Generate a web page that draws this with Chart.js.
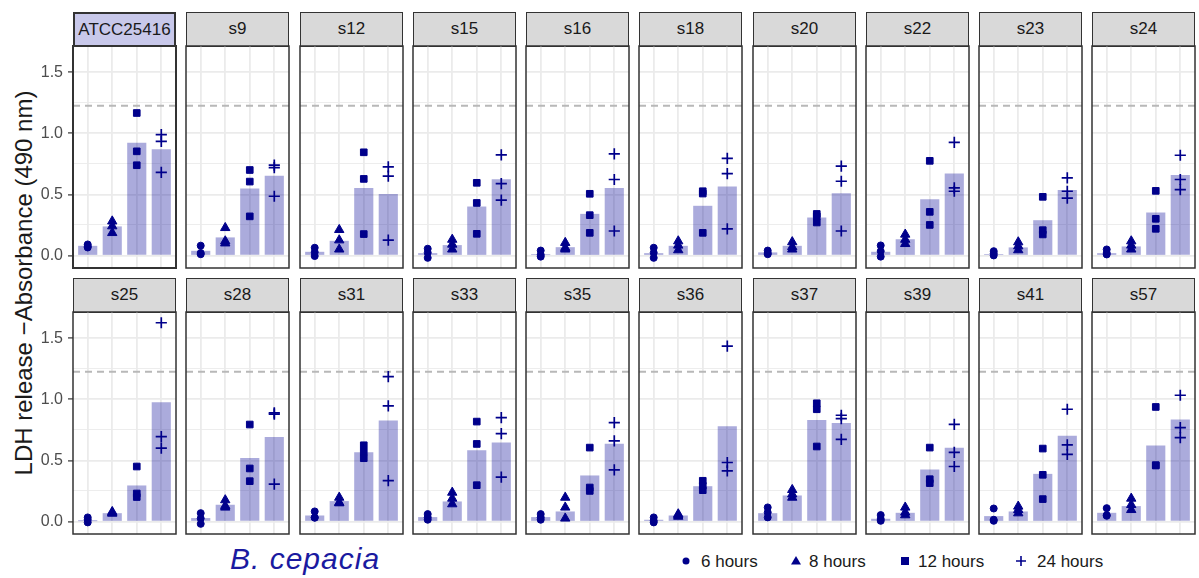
<!DOCTYPE html>
<html>
<head>
<meta charset="utf-8">
<script src="https://cdn.jsdelivr.net/npm/chart.js@4.4.1/dist/chart.umd.min.js"></script>
<style>
  body { margin: 0; background: #fff; width: 1199px; height: 578px; overflow: hidden; position: relative;
         font-family: "Liberation Sans", Arial, Helvetica, sans-serif; }
  .strip { position: absolute; box-sizing: border-box; border: 1.6px solid #333; background: #D9D9D9;
           color: #1A1A1A; font-size: 17px; text-align: center; line-height: 31px; }
  .strip.ref { background: #C8C8EA; border-width: 2px; }
  canvas { position: absolute; }
  #ytitle { position: absolute; width: 420px; height: 30px; line-height: 30px; left: -186px; top: 268px;
            text-align: center; font-size: 24px; color: #1A1A1A; transform: rotate(-90deg); white-space: nowrap; }
  #species { position: absolute; left: 230px; top: 541px; font-size: 30px; font-style: italic;
             letter-spacing: 1px; color: #1A1AA0; line-height: 36px; }
  #legend { position: absolute; left: 0; top: 540px; }
</style>
</head>
<body>
<div id="ytitle">LDH release −Absorbance (490 nm)</div>
<div id="species">B. cepacia</div>
<svg id="legend" width="1199" height="38" xmlns="http://www.w3.org/2000/svg"></svg>
<script>
const strains = ['ATCC25416', 's9', 's12', 's15', 's16', 's18', 's20', 's22', 's23', 's24',
                 's25', 's28', 's31', 's33', 's35', 's36', 's37', 's39', 's41', 's57'];
const timeLabels = ['6 hours', '8 hours', '12 hours', '24 hours'];

// bar heights (mean of replicates), one value per strain
const mean6h  = [0.076, 0.035, 0.027, 0.016, 0.008, 0.016, 0.022, 0.027, 0.008, 0.016,
                 0.005, 0.025, 0.046, 0.033, 0.033, 0.011, 0.065, 0.019, 0.041, 0.068];
const mean8h  = [0.235, 0.145, 0.117, 0.082, 0.065, 0.076, 0.076, 0.130, 0.063, 0.071,
                 0.065, 0.134, 0.164, 0.161, 0.079, 0.046, 0.210, 0.068, 0.079, 0.123];
const mean12h = [0.920, 0.545, 0.550, 0.398, 0.338, 0.404, 0.308, 0.458, 0.286, 0.349,
                 0.292, 0.518, 0.565, 0.581, 0.374, 0.286, 0.829, 0.423, 0.387, 0.619];
const mean24h = [0.867, 0.650, 0.500, 0.622, 0.550, 0.562, 0.507, 0.668, 0.534, 0.657,
                 0.974, 0.690, 0.824, 0.644, 0.633, 0.777, 0.804, 0.600, 0.700, 0.832];

// replicate measurements, three per strain
const reps6h = [[0.09, 0.075, 0.065], [0.08, 0.01, 0.02], [0.063, 0.027, -0.005], [0.055, 0.022, -0.02],
                [0.04, 0.005, -0.01], [0.063, 0.022, -0.02], [0.04, 0.02, 0.01], [0.082, 0.035, -0.01],
                [0.035, 0.016, 0.0], [0.049, 0.008, 0.02], [0.033, 0.014, -0.008], [0.068, 0.025, -0.02],
                [0.082, 0.033, 0.03], [0.06, 0.033, 0.014], [0.06, 0.033, 0.014], [0.033, 0.005, -0.008],
                [0.115, 0.074, 0.033], [0.052, 0.005, 0.02], [0.106, 0.014, 0.005], [0.109, 0.052, 0.046]];
const reps8h = [[0.28, 0.24, 0.185], [0.226, 0.117, 0.1], [0.21, 0.125, 0.05], [0.13, 0.09, 0.05],
                [0.104, 0.063, 0.05], [0.117, 0.082, 0.044], [0.11, 0.07, 0.05], [0.172, 0.13, 0.095],
                [0.109, 0.076, 0.044], [0.117, 0.082, 0.05], [0.079, 0.07, 0.065], [0.175, 0.128, 0.115],
                [0.196, 0.155, 0.15], [0.237, 0.188, 0.142], [0.196, 0.115, 0.025], [0.06, 0.05, 0.04],
                [0.259, 0.223, 0.196], [0.115, 0.074, 0.052], [0.123, 0.095, 0.068], [0.188, 0.136, 0.095]];
const reps12h = [[1.167, 0.853, 0.739], [0.70, 0.605, 0.32], [0.845, 0.627, 0.175], [0.595, 0.43, 0.177],
                 [0.505, 0.33, 0.185], [0.526, 0.507, 0.185], [0.34, 0.32, 0.27], [0.775, 0.357, 0.25],
                 [0.48, 0.207, 0.172], [0.529, 0.30, 0.218], [0.45, 0.229, 0.20], [0.794, 0.434, 0.33],
                 [0.624, 0.57, 0.518], [0.818, 0.635, 0.297], [0.605, 0.278, 0.25], [0.333, 0.292, 0.256],
                 [0.968, 0.919, 0.614], [0.605, 0.346, 0.314], [0.597, 0.382, 0.183], [0.938, 0.461, 0.458]];
const reps24h = [[0.99, 0.935, 0.68], [0.74, 0.72, 0.485], [0.725, 0.65, 0.125], [0.824, 0.589, 0.453],
                 [0.832, 0.622, 0.20], [0.796, 0.67, 0.218], [0.731, 0.608, 0.20], [0.927, 0.554, 0.526],
                 [0.635, 0.526, 0.469], [0.821, 0.622, 0.54], [1.628, 0.695, 0.60], [0.89, 0.88, 0.305],
                 [1.186, 0.946, 0.335], [0.851, 0.72, 0.363], [0.81, 0.66, 0.423], [1.437, 0.483, 0.415],
                 [0.87, 0.843, 0.673], [0.796, 0.565, 0.45], [0.919, 0.627, 0.55], [1.034, 0.769, 0.687]];

const threshold = 1.227;
const yTickLabels = [0, 0.5, 1, 1.5];
const yMinorGrid = [0.25, 0.75, 1.25];

const means = [mean6h, mean8h, mean12h, mean24h];
const reps = [reps6h, reps8h, reps12h, reps24h];
const shapes = ['circle', 'triangle', 'rect', 'cross'];
const sizes = [3.5, 5.4, 4.7, 5.6];
const ptColor = '#00008B';

const panelW = 103;
const plotTop = [46, 312];
const plotH = 222;
const stripH = 34;
const pad = 2;
const colLeft = i => Math.round(73 + 113.25 * i);

const panelBorder = {
  id: 'panelBorder',
  afterDraw(chart, args, opts) {
    const a = chart.chartArea, g = chart.ctx;
    g.save();
    g.strokeStyle = '#333';
    g.lineWidth = opts.width || 1.5;
    g.strokeRect(a.left, a.top, a.right - a.left, a.bottom - a.top);
    g.restore();
  }
};

function noMargins(s) {
  s.paddingLeft = 0; s.paddingRight = 0; s.paddingTop = 0; s.paddingBottom = 0;
}

strains.forEach((name, k) => {
  const row = Math.floor(k / 10), col = k % 10;
  const left = colLeft(col), top = plotTop[row];

  const strip = document.createElement('div');
  strip.className = k === 0 ? 'strip ref' : 'strip';
  strip.textContent = name;
  strip.style.left = left + 'px';
  strip.style.top = (top - stripH) + 'px';
  strip.style.width = panelW + 'px';
  strip.style.height = (stripH + 1) + 'px';
  document.body.appendChild(strip);

  const first = col === 0;
  const cv = document.createElement('canvas');
  const cw = first ? left + panelW + pad : panelW + 2 * pad;
  const ch = plotH + 2 * pad;
  cv.width = cw; cv.height = ch;
  cv.style.width = cw + 'px'; cv.style.height = ch + 'px';
  cv.style.left = (first ? 0 : left - pad) + 'px';
  cv.style.top = (top - pad) + 'px';
  document.body.appendChild(cv);

  const datasets = [{
    type: 'line',
    data: [{ x: -0.6, y: threshold }, { x: 3.6, y: threshold }],
    borderColor: '#B8B8B8', borderWidth: 1.9, borderDash: [7, 5], pointRadius: 0, order: 3
  }, {
    type: 'bar',
    data: means.map((m, i) => ({ x: i, y: m[k] })),
    backgroundColor: 'rgba(0, 0, 150, 0.33)', barThickness: 18.5, order: 2
  }];
  reps.forEach((r, i) => {
    datasets.push({
      type: 'scatter',
      label: timeLabels[i],
      data: r[k].map(v => ({ x: i, y: v })),
      pointStyle: shapes[i], pointRadius: sizes[i],
      pointBorderWidth: shapes[i] === 'cross' ? 1.7 : 1,
      backgroundColor: ptColor, borderColor: ptColor, order: 1
    });
  });

  new Chart(cv, {
    type: 'bar',
    data: { datasets },
    options: {
      responsive: false, animation: false, events: [], devicePixelRatio: 1,
      layout: { autoPadding: false, padding: { left: first ? 0 : pad, right: pad, top: pad, bottom: pad } },
      plugins: { legend: { display: false }, tooltip: { enabled: false }, panelBorder: { width: k === 0 ? 2 : 1.5 } },
      scales: {
        x: {
          type: 'linear', min: -0.6, max: 3.6, offset: false,
          afterBuildTicks: s => { s.ticks = [0, 1, 2, 3].map(v => ({ value: v })); },
          afterFit: s => { s.height = 0; noMargins(s); },
          ticks: { display: false },
          grid: { color: '#EBEBEB', lineWidth: 1.8, drawTicks: false, offset: false },
          border: { display: false }
        },
        y: {
          type: 'linear', min: -0.103, max: 1.716, offset: false,
          afterBuildTicks: s => {
            s.ticks = yTickLabels.concat(yMinorGrid).sort((a, b) => a - b).map(v => ({ value: v }));
          },
          afterFit: s => { s.width = first ? left : 0; noMargins(s); },
          ticks: {
            display: first, autoSkip: false, padding: 5, color: '#4D4D4D',
            font: { size: 16, family: '"Liberation Sans", Arial, sans-serif' },
            callback: v => yTickLabels.includes(v) ? v.toFixed(1) : ''
          },
          grid: {
            color: '#EBEBEB', offset: false,
            lineWidth: c => (c.tick && yMinorGrid.includes(c.tick.value)) ? 0.9 : 1.8,
            drawTicks: first, tickLength: 5, tickWidth: 1.2,
            tickColor: c => (c.tick && yMinorGrid.includes(c.tick.value)) ? 'rgba(0,0,0,0)' : '#333'
          },
          border: { display: false }
        }
      }
    },
    plugins: [panelBorder]
  });
});

// legend
const svg = document.getElementById('legend');
const ns = 'http://www.w3.org/2000/svg';
const legendX = [686, 796, 905, 1021];
const legendTextX = [701, 809, 918, 1037];
const cy = 21;
function el(tag, attrs) {
  const e = document.createElementNS(ns, tag);
  for (const a in attrs) e.setAttribute(a, attrs[a]);
  svg.appendChild(e);
  return e;
}
timeLabels.forEach((t, i) => {
  const x = legendX[i];
  if (shapes[i] === 'circle') el('circle', { cx: x, cy, r: 3.5, fill: ptColor });
  if (shapes[i] === 'triangle') el('polygon', { points: `${x},${cy - 5} ${x + 5},${cy + 3.5} ${x - 5},${cy + 3.5}`, fill: ptColor });
  if (shapes[i] === 'rect') el('rect', { x: x - 4, y: cy - 4, width: 8, height: 8, fill: ptColor });
  if (shapes[i] === 'cross') el('path', { d: `M${x - 5},${cy} H${x + 5} M${x},${cy - 5} V${cy + 5}`, stroke: ptColor, 'stroke-width': 1.6 });
  const tx = el('text', { x: legendTextX[i], y: 27, 'font-size': 17, fill: '#1A1A1A',
    'font-family': '"Liberation Sans", Arial, sans-serif' });
  tx.textContent = t;
});
</script>
</body>
</html>
